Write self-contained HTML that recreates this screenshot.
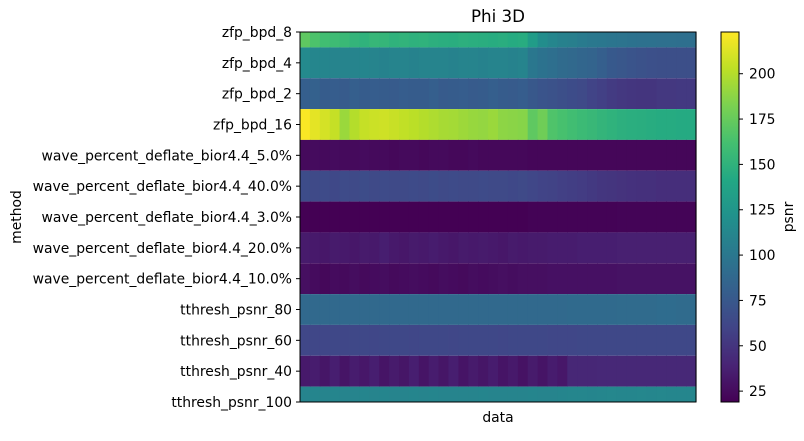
<!DOCTYPE html>
<html><head><meta charset="utf-8"><style>
body{margin:0;background:#fff}
svg text{font-family:"DejaVu Sans","Liberation Sans",sans-serif;fill:#000}
</style></head><body>
<svg id="chart" width="804" height="436" viewBox="0 0 804 436">
<text x="498" y="22" font-size="16.7" text-anchor="middle">Phi 3D</text>
<g id="cells"></g>
<rect x="300" y="32" width="396" height="370" fill="none" stroke="#000" stroke-width="1"/>
<g id="yaxis"></g>
<text x="498" y="422" font-size="13.9" text-anchor="middle">data</text>
<text transform="translate(21,217) rotate(-90)" font-size="13.9" text-anchor="middle">method</text>
<defs><linearGradient id="vg" x1="0" y1="1" x2="0" y2="0"></linearGradient></defs>
<rect x="721" y="32" width="18" height="370" fill="url(#vg)" stroke="#000" stroke-width="1"/>
<g id="cbaxis"></g>
<text transform="translate(793,217) rotate(-90)" font-size="13.9" text-anchor="middle">psnr</text>
</svg>
<script>
const methods=["zfp_bpd_8","zfp_bpd_4","zfp_bpd_2","zfp_bpd_16","wave_percent_deflate_bior4.4_5.0%","wave_percent_deflate_bior4.4_40.0%","wave_percent_deflate_bior4.4_3.0%","wave_percent_deflate_bior4.4_20.0%","wave_percent_deflate_bior4.4_10.0%","tthresh_psnr_80","tthresh_psnr_60","tthresh_psnr_40","tthresh_psnr_100"];
const rowZfp8=[172,165,160,158,156,152,150,154,153,150,151,149,150,148,147,146,148,147,146,145,146,144,145,131,118,112,108,106,103,101,100,98,97,96,95,95,94,94,93,93];
const rowZfp4=[115,112,111,110,110,110,111,110,109,110,110,109,110,110,110,109,110,110,109,110,110,109,110,100,96,93,90,88,86,84,80,76,74,72,70,69,68,68,68,68];
const rowZfp2=[80,82,78,79,77,80,78,79,78,77,79,78,78,80,77,78,79,77,78,80,78,77,79,75,72,70,68,66,64,60,57,54,52,51,50,50,52,52,53,53];
const rowZfp16=[222,215,210,205,192,200,205,207,208,206,204,202,200,198,196,195,193,191,190,192,188,187,186,172,178,166,163,160,157,155,152,150,148,147,146,145,144,144,143,143];
const rowW5=[24,25,24,25,24,24,25,24,24,23,24,24,23,24,24,23,23,24,23,23,23,23,23,22,22,22,22,22,22,22,22,22,22,22,22,22,22,22,22,22];
const rowW40=[66,64,65,63,65,64,66,64,65,64,64,65,64,66,64,65,64,64,65,64,64,63,64,62,60,59,57,56,55,53,51,50,49,48,47,47,46,46,46,46];
const rowW3=[19,18,19,18,19,19,18,19,19,19,18,19,19,19,19,18,19,19,19,19,19,19,19,20,20,20,20,20,20,20,20,20,21,21,21,21,21,21,21,21];
const rowW20=[34,33,32,34,33,32,34,33,36,33,32,34,33,35,33,32,34,33,34,33,32,34,33,34,34,35,35,35,36,36,36,36,37,37,37,37,37,37,37,37];
const rowW10=[27,25,23,25,24,26,24,25,26,24,25,26,25,24,26,25,24,26,25,26,27,26,27,27,27,28,28,28,28,28,28,28,29,29,29,29,29,29,29,29];
const rowT80=[88,88,88,88,88,88,88,88,88,88,88,88,88,88,88,88,88,88,88,88,88,88,88,88,88,88,88,89,89,89,89,89,90,90,90,90,91,91,90,90];
const rowT60=[62,62,62,63,62,63,63,62,63,63,63,62,63,63,63,62,63,63,63,63,62,63,63,63,63,62,62,62,63,63,63,63,63,63,63,63,63,63,63,63];
const rowT40=[33,35,31,36,30,35,32,36,30,34,31,36,30,35,31,36,30,34,31,35,30,33,29,34,30,35,32,41,41,41,42,42,42,42,42,42,42,42,42,42];
const rowT100=[110,111,110,111,110,110,111,110,111,110,110,111,110,111,110,110,110,110,111,110,110,110,110,111,110,110,111,112,112,111,112,113,112,112,113,112,113,112,112,112];
const rows=[rowZfp8,rowZfp4,rowZfp2,rowZfp16,rowW5,rowW40,rowW3,rowW20,rowW10,rowT80,rowT60,rowT40,rowT100];
const cbTicks=[25,50,75,100,125,150,175,200];
const vmin=19, vmax=223;
const VIR=["#440154","#482475","#414487","#355f8d","#2a788e","#21918c","#22a884","#44bf70","#7ad151","#bddf26","#fde725"];
function hx(h){return [1,3,5].map(i=>parseInt(h.substr(i,2),16));}
function viridis(t){t=Math.max(0,Math.min(1,t));const p=t*10,i=Math.min(9,Math.floor(p)),f=p-i;const a=hx(VIR[i]),b=hx(VIR[i+1]);return "rgb("+a.map((v,k)=>Math.round(v+(b[k]-v)*f)).join(",")+")";}
const NS="http://www.w3.org/2000/svg";
const X0=300,X1=696,Y0=32,Y1=402;
const step=(Y1-Y0)/(methods.length-1);
function yc(i){return Y0+i*step;}
function cy(v){return Y1-(v-vmin)/(vmax-vmin)*(Y1-Y0);}
const cells=document.getElementById('cells');
rows.forEach((r,i)=>{
  const top=Math.max(Y0,yc(i)-step/2),bot=Math.min(Y1,yc(i)+step/2);
  const w=(X1-X0)/r.length;
  r.forEach((v,j)=>{
    const el=document.createElementNS(NS,'rect');
    el.setAttribute('x',X0+j*w);el.setAttribute('y',top);
    el.setAttribute('width',w+0.6);el.setAttribute('height',bot-top);
    el.setAttribute('fill',viridis((v-vmin)/(vmax-vmin)));
    
    
    cells.appendChild(el);
  });
});
const ya=document.getElementById('yaxis');
methods.forEach((m,i)=>{
  const y=yc(i);
  const l=document.createElementNS(NS,'line');
  l.setAttribute('x1',296);l.setAttribute('x2',300);l.setAttribute('y1',y);l.setAttribute('y2',y);l.setAttribute('stroke','#000');
  
  
  ya.appendChild(l);
  const t=document.createElementNS(NS,'text');
  t.setAttribute('x',292);t.setAttribute('y',y+5);t.setAttribute('font-size','13.9');t.setAttribute('text-anchor','end');
  t.textContent=m;
  
  
  ya.appendChild(t);
});
const g=document.getElementById('vg');
VIR.forEach((c,i)=>{const s=document.createElementNS(NS,'stop');s.setAttribute('offset',(i/10));s.setAttribute('stop-color',c);g.appendChild(s);});
const cb=document.getElementById('cbaxis');
cbTicks.forEach(v=>{
  const y=cy(v);
  const l=document.createElementNS(NS,'line');
  l.setAttribute('x1',739);l.setAttribute('x2',743);l.setAttribute('y1',y);l.setAttribute('y2',y);l.setAttribute('stroke','#000');
  
  
  cb.appendChild(l);
  const t=document.createElementNS(NS,'text');
  t.setAttribute('x',749);t.setAttribute('y',y+5);t.setAttribute('font-size','13.9');
  t.textContent=v;
  
  
  cb.appendChild(t);
});
</script>
</body></html>
